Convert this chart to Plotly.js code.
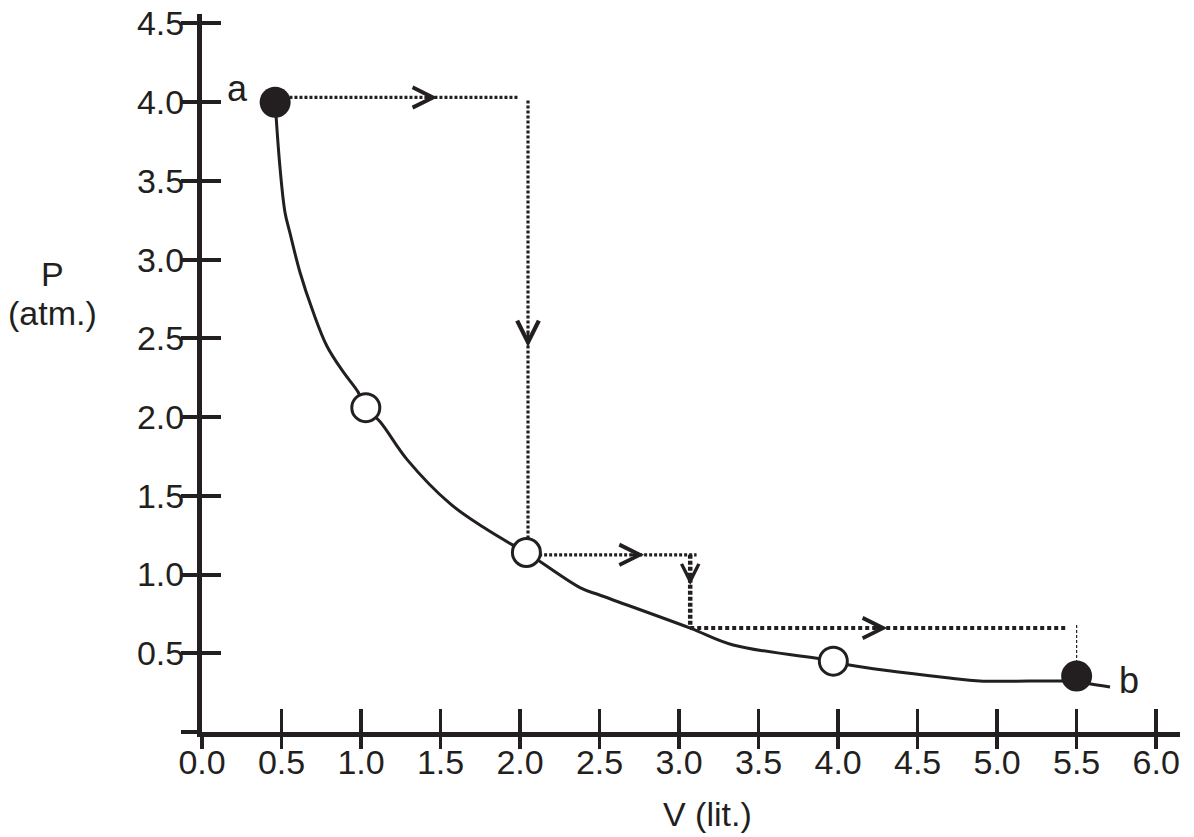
<!DOCTYPE html>
<html>
<head>
<meta charset="utf-8">
<script src="https://cdn.plot.ly/plotly-3.0.1.min.js"></script>
<style>
  html, body { margin: 0; padding: 0; background: #fff; }
  #chart { width: 1194px; height: 837px; }
</style>
</head>
<body>
<div id="chart"></div>
<script>
const ink = '#231f20';
const font = 'Liberation Sans, Arial, Helvetica, sans-serif';

// P-V curve
const curveV = [0.46, 0.49, 0.522, 0.553, 0.616, 0.698, 0.786, 0.886, 0.981, 1.03, 1.12, 1.29, 1.56, 1.77, 1.95, 2.04, 2.38, 2.50, 3.07, 3.34, 3.97, 4.07, 4.70, 4.89, 5.41, 5.50, 5.71];
const curveP = [4.00, 3.59, 3.30, 3.17, 2.92, 2.67, 2.45, 2.29, 2.16, 2.06, 1.97, 1.73, 1.45, 1.30, 1.19, 1.14, 0.915, 0.87, 0.66, 0.553, 0.451, 0.426, 0.343, 0.324, 0.324, 0.318, 0.286];

// end states a and b (filled), intermediate states (open)
const endV = [0.46, 5.50];
const endP = [4.00, 0.355];
const endNames = ['a', 'b'];
const midV = [1.03, 2.04, 3.97];
const midP = [2.06, 1.14, 0.45];

// dotted path a -> b
const pathAV = [0.55, 1.99];
const pathAP = [4.03, 4.03];
const pathBV = [2.05, 2.05];
const pathBP = [4.01, 1.22];
const pathCV = [2.12, 3.11];
const pathCP = [1.125, 1.125];
const pathDV = [3.07, 3.07];
const pathDP = [1.125, 0.66];
const pathEV = [3.07, 5.43];
const pathEP = [0.66, 0.66];
const pathFV = [5.50, 5.50];
const pathFP = [0.68, 0.45];

// arrow tips along the path
const rightV = [1.48, 2.78, 4.31];
const rightP = [4.03, 1.125, 0.66];
const downV = [2.05, 3.07];
const downP = [2.445, 0.934];

const xTicks = [0, 0.5, 1, 1.5, 2, 2.5, 3, 3.5, 4, 4.5, 5, 5.5, 6];
const xLabels = ['0.0', '0.5', '1.0', '1.5', '2.0', '2.5', '3.0', '3.5', '4.0', '4.5', '5.0', '5.5', '6.0'];
const yTicks = [0, 0.5, 1, 1.5, 2, 2.5, 3, 3.5, 4, 4.5];
const yLabels = ['', '0.5', '1.0', '1.5', '2.0', '2.5', '3.0', '3.5', '4.0', '4.5'];

function dotted(x, y, w, dash) {
  return { x: x, y: y, mode: 'lines', type: 'scatter', hoverinfo: 'skip',
    line: { color: ink, width: w, dash: dash } };
}

let traces = [
  { x: curveV, y: curveP, mode: 'lines', type: 'scatter',
    line: { color: ink, width: 3, shape: 'spline', smoothing: 1 } },
  dotted(pathAV, pathAP, 3.2, '3px,2px'),
  dotted(pathBV, pathBP, 3.2, '3px,2px'),
  dotted(pathCV, pathCP, 3.2, '3px,2px'),
  dotted(pathDV, pathDP, 4.5, '4px,2px'),
  dotted(pathEV, pathEP, 4, '4px,3px'),
  dotted(pathFV, pathFP, 1.2, '3px,2px'),
  { x: midV, y: midP, mode: 'markers', type: 'scatter',
    marker: { size: 28, color: '#fff', line: { color: ink, width: 3 } } },
  { x: endV, y: endP, mode: 'markers', type: 'scatter',
    marker: { size: 31, color: ink } },
  { x: [], y: [], xaxis: 'x2', yaxis: 'y2', type: 'scatter' },
];

let annotations = [];
rightV.forEach((v, i) => {
  annotations.push({ x: v, y: rightP[i], ax: -14, ay: 0, text: '', showarrow: true,
    arrowhead: 5, arrowwidth: 2.5, arrowsize: 1.6, arrowcolor: ink });
});
annotations.push({ x: downV[0], y: downP[0], ax: 0, ay: -16, text: '', showarrow: true,
  arrowhead: 5, arrowwidth: 2.5, arrowsize: 1.7, arrowcolor: ink });
annotations.push({ x: downV[1], y: downP[1], ax: 0, ay: -12, text: '', showarrow: true,
  arrowhead: 5, arrowwidth: 1, arrowsize: 3.4, arrowcolor: ink });

annotations.push({ x: endV[0], y: endP[0], text: endNames[0], showarrow: false,
  xshift: -38, yshift: 14, font: { family: font, size: 36, color: ink } });
annotations.push({ x: endV[1], y: endP[1], text: endNames[1], showarrow: false,
  xshift: 52, yshift: -4, font: { family: font, size: 36, color: ink } });

const titleFont = { family: font, size: 34, color: ink };
annotations.push({ xref: 'paper', yref: 'paper', x: 0.517, y: -0.114, xanchor: 'center', yanchor: 'middle',
  text: 'V (lit.)', showarrow: false, font: titleFont });
annotations.push({ xref: 'paper', yref: 'paper', x: -0.153, y: 0.638, xanchor: 'center', yanchor: 'middle',
  text: 'P', showarrow: false, font: titleFont });
annotations.push({ xref: 'paper', yref: 'paper', x: -0.153, y: 0.583, xanchor: 'center', yanchor: 'middle',
  text: '(atm.)', showarrow: false, font: titleFont });

const tickFont = { family: font, size: 34, color: ink };

let layout = {
  width: 1194,
  height: 837,
  margin: { l: 202, r: 14, t: 14, b: 105 },
  paper_bgcolor: '#fff',
  plot_bgcolor: '#fff',
  showlegend: false,
  xaxis: {
    range: [0, 6.15], showline: true, linewidth: 5, linecolor: ink,
    ticks: 'outside', ticklen: 12, tickwidth: 3.5, tickcolor: ink,
    tickvals: xTicks, ticktext: xLabels, tickfont: tickFont, ticklabelstandoff: -16,
    showgrid: false, zeroline: false,
  },
  xaxis2: {
    overlaying: 'x', anchor: 'y', side: 'bottom', range: [0, 6.15],
    ticks: 'inside', ticklen: 23, tickwidth: 3.5, tickcolor: ink, tickvals: xTicks,
    showticklabels: false, showgrid: false, zeroline: false, showline: false,
  },
  yaxis: {
    range: [0, 4.56], showline: true, linewidth: 5, linecolor: ink,
    ticks: 'outside', ticklen: 16, tickwidth: 4, tickcolor: ink,
    tickvals: yTicks, ticktext: yLabels, tickfont: tickFont, ticklabelstandoff: -10,
    showgrid: false, zeroline: false,
  },
  yaxis2: {
    overlaying: 'y', anchor: 'x', side: 'left', range: [0, 4.56],
    ticks: 'inside', ticklen: 19, tickwidth: 4, tickcolor: ink, tickvals: yTicks,
    showticklabels: false, showgrid: false, zeroline: false, showline: false,
  },
  annotations: annotations,
};

Plotly.newPlot('chart', traces, layout, { staticPlot: true });
</script>
</body>
</html>
